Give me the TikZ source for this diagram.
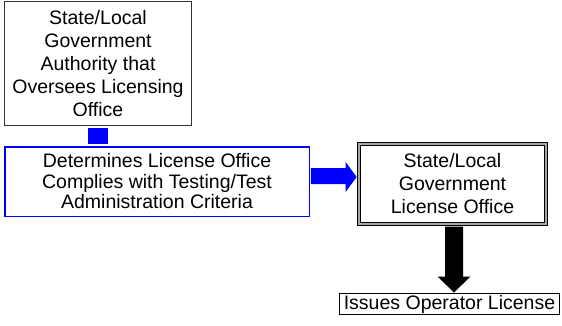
\documentclass[tikz,border=0pt]{standalone}
\usepackage{fontspec}
\setmainfont{Liberation Sans}
\usetikzlibrary{calc}
\definecolor{pureblue}{RGB}{0,0,255}
\tikzset{
  box/.style={draw, inner sep=0pt, align=center, line width=1pt},
  bigtext/.style={font=\fontsize{19.5}{23}\selectfont},
  tighttext/.style={font=\fontsize{19.5}{20.5}\selectfont},
}
\begin{document}
\begin{tikzpicture}[x=1pt,y=-1pt]
\useasboundingbox (0,0) rectangle (562,325);
\node[box, bigtext, draw=black!80, minimum width=187, minimum height=124] (top) at (98,63.5)
  {State/Local\\Government\\Authority that\\Oversees Licensing\\Office};
\node[box, tighttext, draw=pureblue, line width=1.5pt, minimum width=304.5, minimum height=69.5] (blue) at (157,181.5)
  {Determines License Office\\Complies with Testing/Test\\Administration Criteria};
\node[box, bigtext, draw=black, line width=1.2pt, double=black!35, double distance=1.5pt, minimum width=187, minimum height=80] (dbl) at (452.5,184)
  {State/Local\\Government\\License Office};
\node[box, bigtext, draw=black, minimum width=220, minimum height=21] (iss) at (449.5,304)
  {Issues Operator License};
% blue connector stub
\fill[pureblue] ($(top.south)+(-10,1.5)$) rectangle ($(top.south |- blue.north)+(10,-2.5)$);
% blue arrow
\coordinate (bt) at ($(blue.east)+(0.75,-4.5)$);
\coordinate (bh) at ($(dbl.west |- bt)+(-1.8,0)$);
\fill[pureblue] ($(bt)+(0,-9)$) -- ($(bh)+(-11,-9)$) -- ($(bh)+(-11,-15)$) -- (bh)
  -- ($(bh)+(-11,15)$) -- ($(bh)+(-11,7)$) -- ($(bt)+(0,7)$) -- cycle;
% black arrow
\coordinate (ct) at ($(dbl.south)+(1.5,1.9)$);
\coordinate (ch) at ($(ct |- iss.north)+(0,-0.5)$);
\fill[black] ($(ct)+(-9,0)$) -- ($(ch)+(-9,-16)$) -- ($(ch)+(-16.5,-16)$) -- (ch)
  -- ($(ch)+(16.5,-16)$) -- ($(ch)+(9,-16)$) -- ($(ct)+(9,0)$) -- cycle;
\end{tikzpicture}
\end{document}
